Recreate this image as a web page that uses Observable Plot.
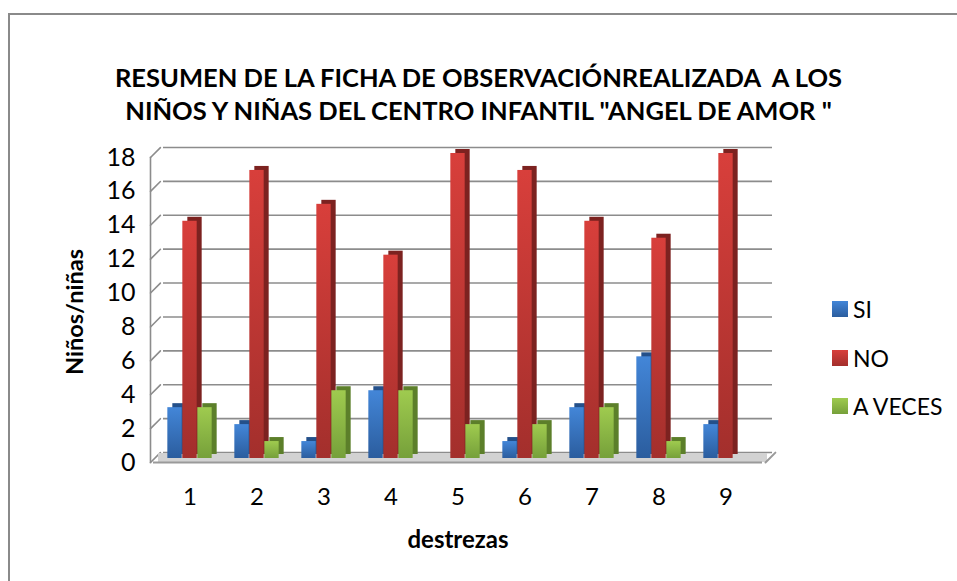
<!DOCTYPE html>
<html>
<head>
<meta charset="utf-8">
<script src="https://cdn.jsdelivr.net/npm/d3@7"></script>
<script src="https://cdn.jsdelivr.net/npm/@observablehq/plot@0.6"></script>
<style>
  html, body { margin: 0; padding: 0; background: #fff; overflow: hidden; }
  #wrap { position: relative; width: 957px; height: 581px; overflow: hidden; background: #fff; font-family: Lato, "Open Sans", sans-serif; color: #000; }
  #btop { position: absolute; left: 8px; top: 13px; width: 949px; height: 2px; background: #8a8a8a; }
  #bleft { position: absolute; left: 8px; top: 13px; width: 2px; height: 568px; background: #8a8a8a; }
  #chart { position: absolute; left: 0; top: 0; }
  #title { position: absolute; left: 0; width: 957px; top: 61px; text-align: center; font-weight: bold; font-size: 25.5px; line-height: 33px; }
  #legend { position: absolute; left: 832px; top: 285px; font-size: 23px; }
  .item { display: flex; align-items: center; height: 48.5px; }
  .sw { width: 16px; height: 16px; margin-right: 5px; }
</style>
</head>
<body>
<div id="wrap">
  <div id="btop"></div>
  <div id="bleft"></div>
  <div id="chart"></div>
  <div id="title"></div>
  <div id="legend"></div>
</div>
<script>
const titleLines = ["RESUMEN DE LA FICHA DE OBSERVACIÓNREALIZADA  A LOS", "NIÑOS Y NIÑAS DEL CENTRO INFANTIL \"ANGEL DE AMOR \""];
const categories = ["1", "2", "3", "4", "5", "6", "7", "8", "9"];
const seriesNames = ["SI", "NO", "A VECES"];
const si = [3, 2, 1, 4, 0, 1, 3, 6, 2];
const no = [14, 17, 15, 12, 18, 17, 14, 13, 18];
const aveces = [3, 1, 4, 4, 2, 2, 3, 1, 0];
const yTicks = [0, 2, 4, 6, 8, 10, 12, 14, 16, 18];
const yLabel = "Niños/niñas";
const xLabel = "destrezas";

const seriesValues = [si, no, aveces];
const frontTop = ["#4386d8", "#d83f3b", "#9fcb4f"];
const frontBottom = ["#2b5d9e", "#a32f2c", "#76a03a"];
const sideColor = ["#24508a", "#7c2220", "#5c7f2a"];

document.getElementById("title").innerHTML = titleLines.map(t => `<div>${t.replace(/  /g, "&nbsp; ")}</div>`).join("");

const W = 957, H = 581;
const mL = 153, mR = 195, mT = 153, mB = 123;
const band = (W - mL - mR) / categories.length;
const barW = 15;
const inset = (band - barW) / 2;
const offsets = [-15, 0, 15];

const marks = [];
// back wall gridlines
marks.push(Plot.ruleY(yTicks, {stroke: "#8c8c8c", strokeWidth: 1.6, dx: 10, dy: -6}));
// diagonal ticks from axis to wall
marks.push(Plot.vector(yTicks, {y: d => d, frameAnchor: "left", rotate: 45, length: 14, anchor: "start", shape: "spike", r: 0, stroke: "#8c8c8c", strokeWidth: 1.6, fill: "none", dx: -3, dy: 4}));
// floor
marks.push(Plot.ruleY([0], {stroke: "#d2d2d2", strokeWidth: 9, dx: 5, dy: -1}));
marks.push(Plot.ruleY([0], {stroke: "#9a9a9a", strokeWidth: 2, dy: 4}));
marks.push(Plot.vector([0], {y: d => d, frameAnchor: "right", rotate: 45, length: 14, anchor: "start", shape: "spike", r: 0, stroke: "#9a9a9a", strokeWidth: 2, fill: "none", dx: 3, dy: 4}));
// axis line
marks.push(Plot.frame({anchor: "left", stroke: "#8c8c8c", strokeWidth: 1.6, dx: -3, dy: 4}));

seriesNames.forEach((s, i) => {
  const rows = categories.map((c, j) => ({cat: c, series: s, value: seriesValues[i][j]}));
  marks.push(Plot.barY(rows, {x: "cat", y: "value", fill: sideColor[i], dx: offsets[i] + 5, dy: -4, insetLeft: inset, insetRight: inset}));
  marks.push(Plot.barY(rows, {x: "cat", y: "value", fill: `url(#grad${i})`, dx: offsets[i], insetLeft: inset, insetRight: inset}));
});

marks.push(Plot.axisY(yTicks, {tickSize: 0, tickPadding: 18, fontSize: 25, dy: 4, label: null}));
marks.push(Plot.axisX({tickSize: 0, tickPadding: 29, fontSize: 24, label: null}));
marks.push(Plot.text([yLabel], {frameAnchor: "left", rotate: -90, textAnchor: "middle", lineAnchor: "middle", dx: -78, dy: 6, fontWeight: "bold", fontSize: 23.5}));
marks.push(Plot.text([xLabel], {frameAnchor: "bottom", textAnchor: "middle", lineAnchor: "middle", dy: 82, fontWeight: "bold", fontSize: 24}));

const chart = Plot.plot({
  width: W, height: H,
  marginLeft: mL, marginRight: mR, marginTop: mT, marginBottom: mB,
  style: {fontFamily: "Lato, 'Open Sans', sans-serif", color: "#000", background: "transparent"},
  x: {domain: categories, padding: 0, axis: null},
  y: {domain: [0, 18], axis: null},
  marks
});

const defs = d3.select(chart).insert("defs", ":first-child");
seriesNames.forEach((s, i) => {
  const g = defs.append("linearGradient").attr("id", `grad${i}`).attr("x1", 0).attr("y1", 0).attr("x2", 0).attr("y2", 1);
  g.append("stop").attr("offset", "0%").attr("stop-color", frontTop[i]);
  g.append("stop").attr("offset", "100%").attr("stop-color", frontBottom[i]);
});
document.getElementById("chart").appendChild(chart);

document.getElementById("legend").innerHTML = seriesNames.map((s, i) =>
  `<div class="item"><div class="sw" style="background:linear-gradient(${frontTop[i]},${frontBottom[i]})"></div><span>${s}</span></div>`).join("");
</script>
</body>
</html>
